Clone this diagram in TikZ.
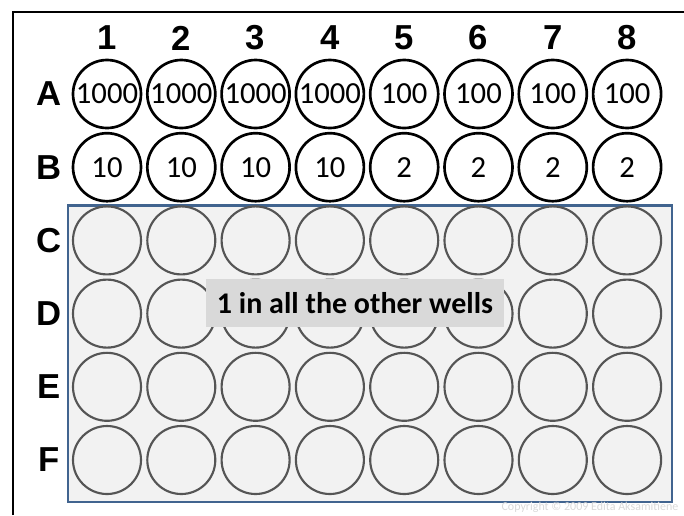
\documentclass[tikz,border=0pt]{standalone}
\usepackage{fontspec}
\setmainfont{Carlito}
\newfontfamily\labelfont{Liberation Sans}
\usetikzlibrary{positioning}
\definecolor{plateblue}{HTML}{41648F}
\definecolor{platebg}{HTML}{F2F2F2}
\definecolor{notebg}{HTML}{D9D9D9}
\definecolor{wellrim}{HTML}{555555}

\begin{document}
\begin{tikzpicture}[x=0.75pt,y=-0.75pt,
		well/.style={circle,draw=black,line width=2pt,minimum size=51pt,inner sep=0pt,font=\fontsize{23}{23}\selectfont},
		blankwell/.style={well,draw=wellrim,line width=1.6pt},
		hd/.style={font=\labelfont\bfseries\fontsize{26}{26}\selectfont},
		plate/.style={draw=plateblue,fill=platebg,line width=2pt,minimum width=453pt,minimum height=222.5pt,inner sep=0pt},
		note/.style={fill=notebg,font=\bfseries\fontsize{22.5}{22.5}\selectfont,minimum width=223.5pt,minimum height=36pt,inner sep=1pt}
		]
		\useasboundingbox (0,0) rectangle (684,515);
		% outer frame
		\draw[line width=2.2pt] (13,515) -- (13,12) -- (684,12);

		% plate area behind rows C-F
		\node[plate] (plate) at (370,353.5) {};

		% column and row labels
		\foreach \c in {1,...,8}
			\node[hd] (col\c) at ({107+74.3*(\c-1)},38) {\c};
		\foreach \r [count=\k from 0] in {A,B,C,D,E,F}
			\node[hd] (row\r) at (49,{94+73.2*\k}) {\r};

		% labelled wells
		\foreach \c/\v in {1/1000,2/1000,3/1000,4/1000,5/100,6/100,7/100,8/100}
			\node[well] (A\c) at ({107+74.3*(\c-1)},94) {\v};
		\foreach \c/\v in {1/10,2/10,3/10,4/10,5/2,6/2,7/2,8/2}
			\node[well] (B\c) at ({107+74.3*(\c-1)},167.2) {\v};

		% remaining wells
		\foreach \r [count=\k from 2] in {C,D,E,F}
			\foreach \c in {1,...,8}
				\node[blankwell] (\r\c) at ({107+74.3*(\c-1)},{94+73.2*\k}) {};

		\node[note] (note) at (355,303) {1 in all the other wells};
		\node[anchor=east,text=black!15,font=\fontsize{9}{9}\selectfont] (copy) at (683,507) {Copyright © 2009 Edita Aksamitiene};
	\end{tikzpicture}
\end{document}
